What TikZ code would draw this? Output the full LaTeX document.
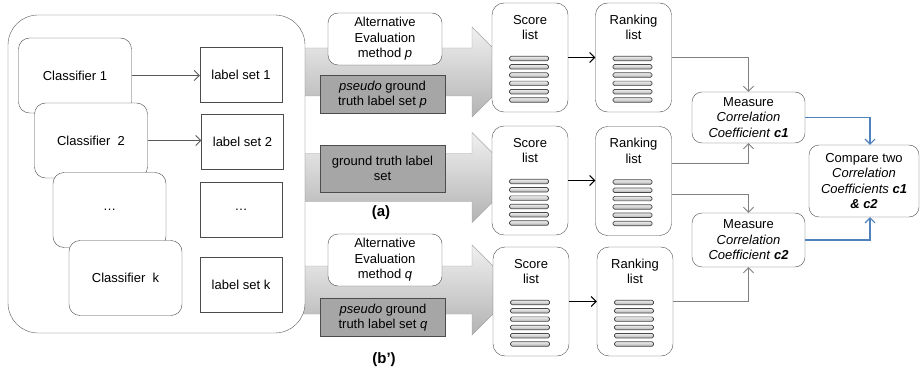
\documentclass[tikz,border=0pt]{standalone}
\usepackage{fontspec}
\setmainfont{Liberation Sans}
\usetikzlibrary{arrows.meta}

\definecolor{linkblue}{RGB}{79,129,189}
\definecolor{truthgray}{RGB}{166,166,166}

\def \clfboxes {c1/75/75.5/Classifier 1,c2/91/140.5/Classifier\ \ 2,c3/109.5/210/\ldots,ck/125.5/278/Classifier\ \ k}
\def \lblboxes {l1/241/74.5/label set 1,l2/242.5/142/label set 2,l3/241/210/\ldots,lk/241/284.5/label set k}
\def \arrowrows {72,177.5,290}
\def \listboxes {s1/530/57.5/Score,s2/530/180.5/Score,s3/531/301.5/Score,r1/633.5/57.5/Ranking,r2/633.5/181/Ranking,r3/635/301.5/Ranking}

\begin{document}
\begin{tikzpicture}
   [x=1pt, y=-1pt,
   every node/.style={font=\fontsize{13}{15.5}\selectfont, align=center},
   txt/.style={draw=none, fill=none, inner sep=0pt},
   tag/.style={draw=none, fill=none, font=\fontsize{15}{17}\selectfont\bfseries},
   panel/.style={draw=black!65, fill=white, rounded corners=30pt, minimum width=297pt, minimum height=318pt},
   clf/.style={draw=black!70, fill=white, rounded corners=11pt, minimum width=113pt, minimum height=75pt},
   lbl/.style={draw=black!70, fill=white, minimum width=82pt, minimum height=55pt},
   altbox/.style={draw=black!70, fill=white, rounded corners=10pt, minimum width=114pt, minimum height=52pt},
   truthbox/.style={draw=black!70, fill=truthgray, minimum width=125pt, minimum height=38pt},
   bigarrow/.style={draw=black!35, top color=black!6, bottom color=black!30},
   listbox/.style={draw=black!70, fill=white, rounded corners=12pt, minimum width=76pt, minimum height=109pt},
   bar/.style={draw=black!72, line width=0.7pt, rounded corners=1.5pt, top color=black!6, bottom color=black!30, minimum width=39pt, minimum height=4.5pt, inner sep=0pt},
   measbox/.style={draw=black!70, fill=white, rounded corners=10pt, minimum width=113pt, minimum height=51pt},
   thinarrow/.style={draw=black!65, line width=0.8pt, -{Straight Barb[length=5pt,width=10pt]}},
   blackarrow/.style={draw=black, line width=1.1pt, -{Straight Barb[length=5pt,width=10pt]}},
   graylink/.style={draw=black!50, line width=0.8pt, -{Straight Barb[length=5pt,width=10pt]}},
   bluelink/.style={draw=linkblue, line width=1.1pt, -{Straight Barb[length=5pt,width=10pt]}}]
\useasboundingbox (0,0) rectangle (920,374);

% wide gray arrows, partly hidden by the panel
\foreach \cy in \arrowrows {
   \draw[bigarrow] (290,\cy-24) -- (472,\cy-24) -- (472,\cy-45) -- (517,\cy)
      -- (472,\cy+45) -- (472,\cy+24) -- (290,\cy+24) -- cycle; }

\node[panel] (clfs) at (156.5,174) {};

\foreach \n / \x / \y / \t in \clfboxes {
   \node[clf] (\n) at (\x,\y) {\t}; }
\foreach \n / \x / \y / \t in \lblboxes {
   \node[lbl] (\n) at (\x,\y) {\t}; }

\draw[thinarrow] (c1.east) -- (c1.east -| l1.west);
\draw[thinarrow] (c2.east) -- (c2.east -| l2.west);

% boxes on the arrows
\node[altbox] (altp) at (385,39) {Alternative\\Evaluation\\method \textit{p}};
\node[truthbox] (truthp) at (382.5,94.5) {\textit{pseudo} ground\\truth label set \textit{p}};
\node[truthbox, minimum height=47pt] (truth) at (382.5,168.5) {ground truth label\\set};
\node[tag] (taga) at (381,213) {(a)};
\node[altbox] (altq) at (385,260) {Alternative\\Evaluation\\method \textit{q}};
\node[truthbox] (truthq) at (383,317.5) {\textit{pseudo} ground\\truth label set \textit{q}};
\node[tag] (tagb) at (384,360) {(b’)};

% score and ranking lists
\foreach \n / \x / \y / \t in \listboxes {
   \node[listbox] (\n) at (\x,\y) {};
   \node[txt, anchor=north] (\n-t) at ([yshift=-12pt]\n.north) {\t\\list};
   \foreach \k in {0,...,5}
      \node[bar] (\n-b\k) at (\x-1,\y+1+8.3*\k) {}; }

\foreach \i in {1,2,3}
   \draw[blackarrow] (s\i.east) -- (s\i.east -| r\i.west);

% correlation
\node[measbox] (m1) at (748.5,117.5) {Measure\\\textit{Correlation}\\\textit{Coefficient} \textbf{\textit{c1}}};
\node[measbox, minimum height=54pt] (m2) at (748.5,240) {Measure\\\textit{Correlation}\\\textit{Coefficient} \textbf{\textit{c2}}};
\node[measbox, minimum width=110pt, minimum height=72pt] (cmp) at (864,181) {Compare two\\\textit{Correlation}\\\textit{Coefficients} \textbf{\textit{c1}}\\\textbf{\textit{\& c2}}};

\draw[graylink] (r1.east) -| (m1.north);
\draw[graylink] ([yshift=18pt]r2.east) -| (m1.south);
\draw[graylink] ([yshift=-13pt]r2.east) -| (m2.north);
\draw[graylink] (r3.east) -| (m2.south);
\draw[bluelink] (m1.east) -| ([xshift=6pt]cmp.north);
\draw[bluelink] (m2.east) -| ([xshift=6pt]cmp.south);
\end{tikzpicture}
\end{document}
